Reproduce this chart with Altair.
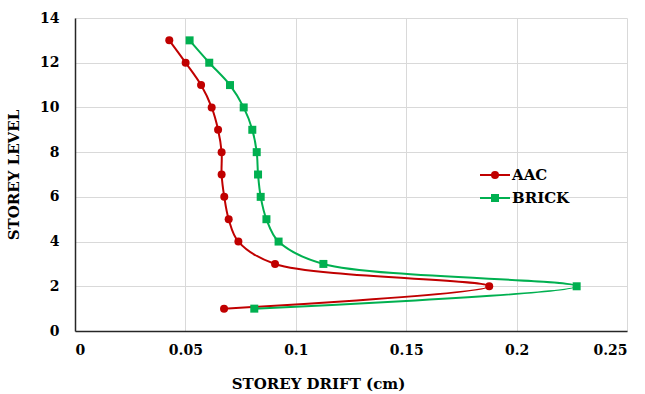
import altair as alt
import pandas as pd

storeys = list(range(1, 14))
aac = [0.0675, 0.1876, 0.0906, 0.0740, 0.0696, 0.0676, 0.0664, 0.0664, 0.0648, 0.0619, 0.0571, 0.0501, 0.0427]
brick = [0.0812, 0.2272, 0.1125, 0.0922, 0.0867, 0.0841, 0.0829, 0.0823, 0.0803, 0.0764, 0.0702, 0.0608, 0.0519]
series_names = ["AAC", "BRICK"]
series_colors = ["#c00000", "#00b050"]
x_ticks = [0, 0.05, 0.1, 0.15, 0.2, 0.25]
y_ticks = [0, 2, 4, 6, 8, 10, 12, 14]

rows = []
for s, vals in zip(series_names, [aac, brick]):
    for st, v in zip(storeys, vals):
        rows.append({"series": s, "storey": st, "drift": v})
df = pd.DataFrame(rows)
legend_df = pd.DataFrame({"series": series_names, "row": [0, 1]})

FONT = "DejaVu Serif"

x = alt.X("drift:Q", scale=alt.Scale(domain=[0, 0.25], nice=False),
          axis=alt.Axis(values=x_ticks, format=".2~f", title="STOREY DRIFT (cm)",
                        titleX=243, titleY=45, titleAnchor="middle", titleAlign="center"))
y = alt.Y("storey:Q", scale=alt.Scale(domain=[0, 14], nice=False),
          axis=alt.Axis(values=y_ticks, title="STOREY LEVEL", titlePadding=18))
color_scale = alt.Scale(domain=series_names, range=series_colors)
shape_scale = alt.Scale(domain=series_names, range=["circle", "square"])

base = alt.Chart(df)

lines = base.mark_line(interpolate="catmull-rom", strokeWidth=2).encode(
    x=x, y=y,
    color=alt.Color("series:N", scale=color_scale, legend=None),
    order="storey:Q",
)

pts = base.mark_point(filled=True, size=64, opacity=1).encode(
    x=x, y=y,
    color=alt.Color("series:N", scale=color_scale, legend=None),
    shape=alt.Shape("series:N", scale=shape_scale, legend=None),
)

# manual legend
ly = alt.Y("row:Q", scale=alt.Scale(domain=[0, 1], range=[157, 180]), axis=None)
lbase = alt.Chart(legend_df)
leg_rule = lbase.mark_rule(strokeWidth=2).encode(
    x=alt.value(405), x2=alt.value(435), y=ly,
    color=alt.Color("series:N", scale=color_scale, legend=None))
leg_pt = lbase.mark_point(filled=True, size=64, opacity=1).encode(
    x=alt.value(420), y=ly,
    color=alt.Color("series:N", scale=color_scale, legend=None),
    shape=alt.Shape("series:N", scale=shape_scale, legend=None))
leg_txt = lbase.mark_text(align="left", baseline="middle", font=FONT, fontSize=15,
                          fontWeight="bold", color="#000000", dx=0).encode(
    x=alt.value(437), y=ly, text="series:N")
legend = alt.layer(leg_rule, leg_pt, leg_txt)

chart = alt.layer(alt.layer(lines, pts), legend).resolve_scale(y="independent").properties(
    width=552, height=313,
    padding={"left": 75, "top": 18, "right": 18, "bottom": 63},
    autosize=alt.AutoSizeParams(type="none"),
    background="white",
).configure_view(stroke=None).configure_axis(
    labelFont=FONT, labelFontSize=14, labelFontWeight="bold", labelColor="#000000",
    titleFont=FONT, titleFontSize=15, titleFontWeight="bold", titleColor="#000000",
    gridColor="#d9d9d9", gridWidth=1, ticks=False,
    domainColor="#262626", domainWidth=1.5,
).configure_axisX(labelPadding=12).configure_axisY(labelPadding=16)

chart.save("out.html", embed_options={"renderer": "svg", "actions": False})
